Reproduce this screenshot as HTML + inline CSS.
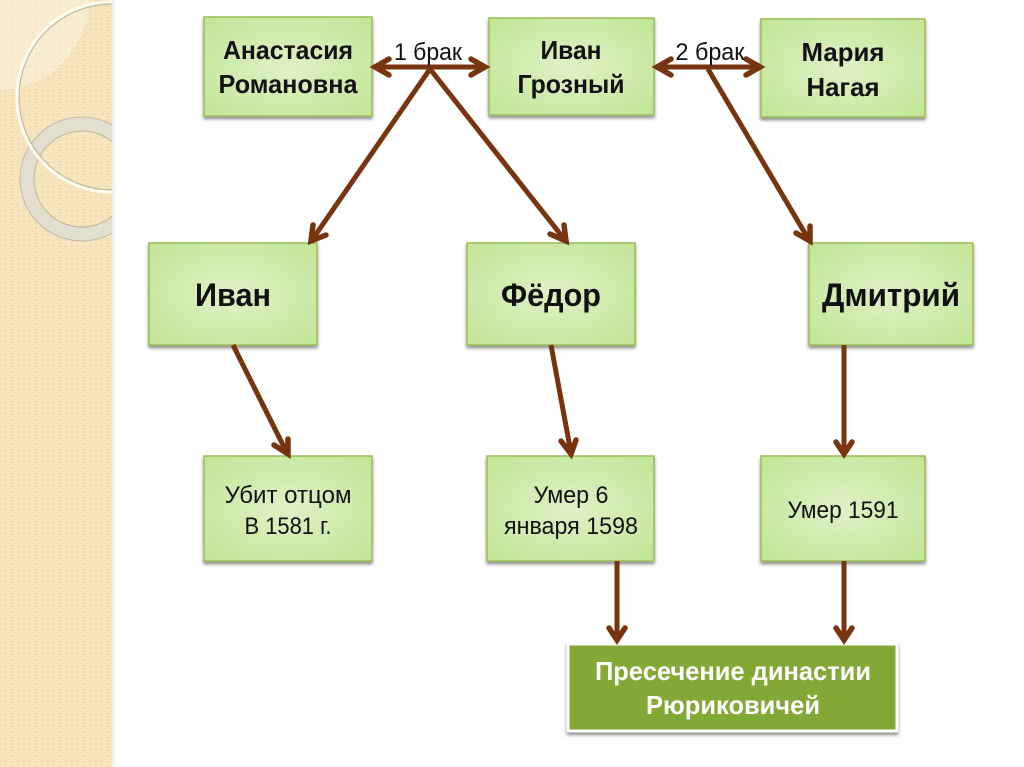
<!DOCTYPE html>
<html><head><meta charset="utf-8"><style>
html,body{margin:0;padding:0;background:#fff;width:1024px;height:767px;overflow:hidden}
svg{display:block}
text{font-family:"Liberation Sans","DejaVu Sans",sans-serif;text-anchor:middle;fill:#111}
.b{font-weight:bold;font-size:26px}
.m{font-weight:bold;font-size:32px}
.r{font-size:24px}
.box{fill:url(#g);stroke:#9bbb59;stroke-width:1.5;filter:url(#s)}
.c{stroke:#77340f;stroke-width:5;fill:none}
.h{stroke:#77340f;stroke-width:5.5;fill:none;stroke-linecap:round;stroke-linejoin:miter}
</style></head><body>
<svg width="1024" height="767" viewBox="0 0 1024 767" xmlns="http://www.w3.org/2000/svg">
<defs>
<radialGradient id="g" cx="50%" cy="50%" r="65%"><stop offset="0" stop-color="#e0f1c6"/><stop offset="1" stop-color="#c3e699"/></radialGradient>
<filter id="s" x="-10%" y="-10%" width="120%" height="125%"><feDropShadow dx="0" dy="2.5" stdDeviation="1.5" flood-color="#000" flood-opacity=".45"/></filter>
<pattern id="p" width="6" height="6" patternUnits="userSpaceOnUse"><rect width="6" height="6" fill="#f4e0b4"/><circle cx="3" cy="3" r="1.8" fill="none" stroke="#fbeed0" stroke-width=".8"/></pattern>
<clipPath id="cl"><rect width="112" height="767"/></clipPath>
</defs>
<rect width="1024" height="767" fill="#fff"/>
<rect x="112" width="3" height="767" fill="#f4f4f4"/>
<g clip-path="url(#cl)">
<rect width="112" height="767" fill="url(#p)"/>
<path d="M0 90 C45 90 85 55 90 0 L0 0Z" fill="#fff" fill-opacity=".3"/>
<circle cx="82" cy="179" r="55" fill="none" stroke="#e2dfd0" stroke-width="14"/>
<circle cx="82" cy="179" r="62" fill="none" stroke="#c0bba6" stroke-width="1"/>
<circle cx="82" cy="179" r="48" fill="none" stroke="#c0b595" stroke-width="1"/>
<circle cx="112" cy="97" r="95" fill="none" stroke="#fffdf2" stroke-width="3.5"/>
<circle cx="112" cy="97" r="93" fill="none" stroke="#a8a18a" stroke-width="1.2" stroke-opacity=".7"/>
</g>

<rect class="box" x="204" y="17" width="168" height="99"/>
<rect class="box" x="489" y="18" width="165" height="97"/>
<rect class="box" x="761" y="19" width="164" height="98"/>
<rect class="box" x="149" y="243" width="168" height="102"/>
<rect class="box" x="467" y="243" width="168" height="102"/>
<rect class="box" x="809" y="243" width="164" height="102"/>
<rect class="box" x="204" y="456" width="168" height="105"/>
<rect class="box" x="487" y="456" width="167" height="105"/>
<rect class="box" x="761" y="456" width="164" height="105"/>
<rect x="568" y="644" width="329" height="87" fill="#83a835" stroke="#fff" stroke-width="3" filter="url(#s)"/>

<!-- connectors -->
<line class="c" x1="376" y1="67" x2="484" y2="67"/>
<path class="h" d="M389 59 L375 67 L389 75"/>
<path class="h" d="M471 59 L485 67 L471 75"/>
<line class="c" x1="658" y1="67" x2="758" y2="67"/>
<path class="h" d="M671 59 L657 67 L671 75"/>
<path class="h" d="M746 59 L760 67 L746 75"/>
<line class="c" x1="430" y1="69" x2="312" y2="240"/>
<path class="h" d="M313 225 L311 241 L326 235"/>
<line class="c" x1="430" y1="69" x2="565" y2="240"/>
<path class="h" d="M550 234 L566 241 L564 225"/>
<line class="c" x1="708" y1="69" x2="809" y2="240"/>
<path class="h" d="M796 233 L810 241 L810 226"/>
<line class="c" x1="233" y1="345" x2="287" y2="453"/>
<path class="h" d="M274 445 L288 454 L288 439"/>
<line class="c" x1="551" y1="345" x2="571" y2="453"/>
<path class="h" d="M561 441 L571 454 L576 440"/>
<line class="c" x1="844" y1="345" x2="844" y2="453"/>
<path class="h" d="M836 442 L844 454 L852 442"/>
<line class="c" x1="617" y1="561" x2="617" y2="640"/>
<path class="h" d="M609 628 L617 640 L625 628"/>
<line class="c" x1="844" y1="561" x2="844" y2="640"/>
<path class="h" d="M836 628 L844 640 L852 628"/>

<!-- text -->
<text class="b" x="288" y="59" textLength="130" lengthAdjust="spacingAndGlyphs">Анастасия</text>
<text class="b" x="288" y="93" textLength="139" lengthAdjust="spacingAndGlyphs">Романовна</text>
<text class="b" x="571" y="59" textLength="61" lengthAdjust="spacingAndGlyphs">Иван</text>
<text class="b" x="571" y="93" textLength="107" lengthAdjust="spacingAndGlyphs">Грозный</text>
<text class="b" x="843" y="61" textLength="83" lengthAdjust="spacingAndGlyphs">Мария</text>
<text class="b" x="843" y="96" textLength="73" lengthAdjust="spacingAndGlyphs">Нагая</text>
<text class="m" x="233" y="306" textLength="76" lengthAdjust="spacingAndGlyphs">Иван</text>
<text class="m" x="551" y="306" textLength="100" lengthAdjust="spacingAndGlyphs">Фёдор</text>
<text class="m" x="891" y="306" textLength="138" lengthAdjust="spacingAndGlyphs">Дмитрий</text>
<text class="r" x="288" y="503" textLength="127" lengthAdjust="spacingAndGlyphs">Убит отцом</text>
<text class="r" x="288" y="534" textLength="87" lengthAdjust="spacingAndGlyphs">В 1581 г.</text>
<text class="r" x="571" y="503" textLength="75" lengthAdjust="spacingAndGlyphs">Умер 6</text>
<text class="r" x="571" y="534" textLength="134" lengthAdjust="spacingAndGlyphs">января 1598</text>
<text class="r" x="843" y="518" textLength="111" lengthAdjust="spacingAndGlyphs">Умер 1591</text>
<text class="r" x="428" y="60" textLength="68" lengthAdjust="spacingAndGlyphs">1 брак</text>
<text class="r" x="710" y="60" textLength="69" lengthAdjust="spacingAndGlyphs">2 брак</text>
<text class="b" x="733" y="680" style="fill:#fff" textLength="276" lengthAdjust="spacingAndGlyphs">Пресечение династии</text>
<text class="b" x="733" y="714" style="fill:#fff" textLength="174" lengthAdjust="spacingAndGlyphs">Рюриковичей</text>
</svg>
</body></html>
